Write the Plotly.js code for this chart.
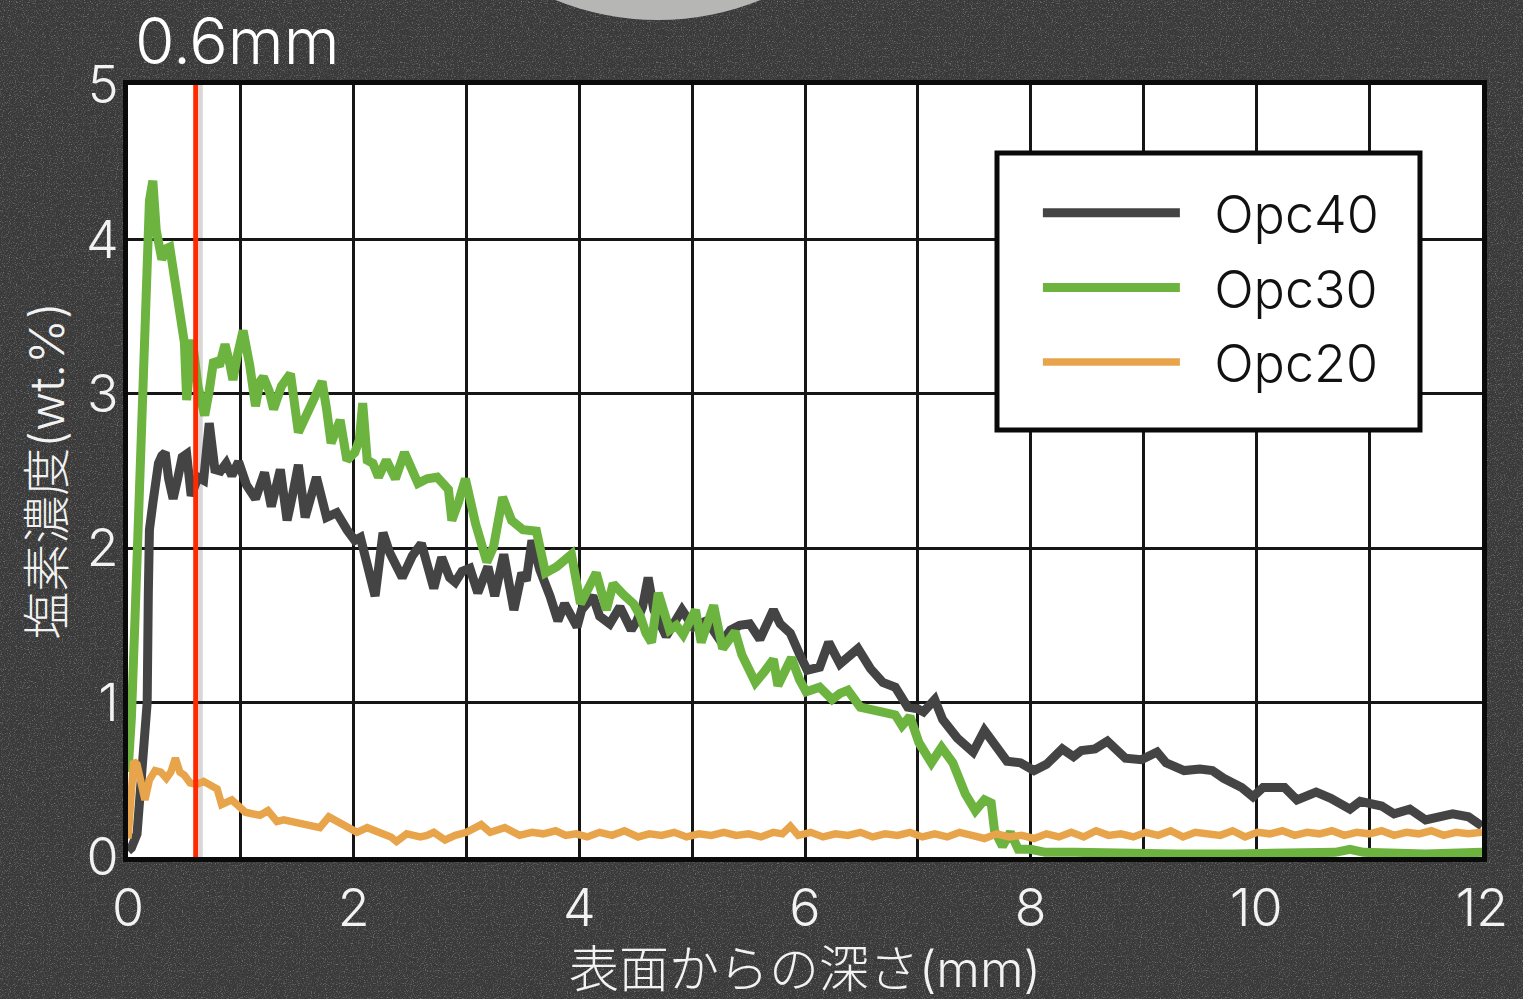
<!DOCTYPE html>
<html lang="ja">
<head>
<meta charset="utf-8">
<title>塩素濃度分布</title>
<script src="https://cdn.plot.ly/plotly-3.0.1.min.js"></script>
<style>
  html, body { margin:0; padding:0; overflow:hidden; background:#3b3b3b; }
  #chart {
    width:1523px; height:999px;
    background-color:#3a3a3a;
    background-image:url("data:image/svg+xml;utf8,<svg xmlns='http://www.w3.org/2000/svg' width='256' height='256'><filter id='g'><feTurbulence type='fractalNoise' baseFrequency='0.85' numOctaves='2' stitchTiles='stitch'/><feColorMatrix type='matrix' values='0 0 0 0 1 0 0 0 0 1 0 0 0 0 1 0.9 0 0 0 -0.47'/></filter><rect width='256' height='256' filter='url(%23g)'/></svg>");
  }
</style>
</head>
<body>
<div id="chart"></div>
<script>
// depth from surface (mm) and chloride content (wt.%) for each mix
const opc40X = [0,0.03,0.08,0.11,0.14,0.17,0.18,0.19,0.22,0.27,0.30,0.33,0.36,0.40,0.44,0.48,0.52,0.56,0.62,0.67,0.72,0.77,0.82,0.87,0.92,0.98,1.05,1.13,1.21,1.27,1.35,1.41,1.46,1.51,1.57,1.67,1.76,1.85,1.94,2.01,2.06,2.10,2.19,2.26,2.32,2.43,2.52,2.60,2.71,2.78,2.85,2.90,2.96,3.03,3.10,3.19,3.25,3.33,3.42,3.49,3.53,3.58,3.65,3.74,3.81,3.87,3.98,4.02,4.12,4.18,4.27,4.36,4.46,4.51,4.56,4.61,4.66,4.77,4.91,5.01,5.13,5.26,5.34,5.42,5.51,5.60,5.72,5.78,5.87,5.96,6.02,6.13,6.21,6.31,6.39,6.47,6.58,6.69,6.80,6.91,7.00,7.05,7.15,7.22,7.35,7.49,7.59,7.72,7.79,7.91,8.03,8.14,8.28,8.38,8.45,8.57,8.68,8.84,8.98,9.12,9.20,9.36,9.50,9.61,9.71,9.87,9.97,10.06,10.25,10.36,10.53,10.66,10.83,10.92,11.11,11.22,11.36,11.50,11.60,11.74,11.88,12.00];
const opc40Y = [0.04,0.06,0.15,0.40,0.69,1.00,1.70,2.12,2.29,2.55,2.60,2.62,2.45,2.32,2.45,2.59,2.61,2.34,2.46,2.44,2.81,2.51,2.50,2.55,2.47,2.56,2.41,2.32,2.49,2.27,2.51,2.18,2.35,2.54,2.20,2.46,2.20,2.23,2.12,2.05,2.07,1.94,1.69,2.10,1.97,1.81,1.95,2.03,1.74,1.94,1.81,1.78,1.85,1.87,1.71,1.88,1.69,1.96,1.60,1.84,1.79,2.05,1.86,1.69,1.53,1.64,1.49,1.60,1.69,1.56,1.51,1.62,1.47,1.53,1.62,1.81,1.60,1.43,1.60,1.49,1.53,1.39,1.47,1.50,1.51,1.41,1.60,1.51,1.45,1.30,1.21,1.23,1.39,1.25,1.30,1.35,1.22,1.13,1.10,0.97,0.96,0.94,1.02,0.89,0.77,0.68,0.82,0.69,0.62,0.61,0.56,0.60,0.70,0.65,0.69,0.70,0.75,0.64,0.63,0.68,0.61,0.56,0.57,0.56,0.51,0.45,0.39,0.45,0.45,0.37,0.42,0.38,0.31,0.36,0.33,0.28,0.31,0.24,0.26,0.28,0.26,0.20];

const opc30X = [0,0.03,0.06,0.09,0.13,0.16,0.19,0.22,0.25,0.30,0.34,0.37,0.40,0.46,0.50,0.52,0.57,0.62,0.68,0.72,0.76,0.81,0.86,0.90,0.93,0.97,1.02,1.08,1.13,1.17,1.20,1.25,1.29,1.36,1.44,1.51,1.57,1.65,1.72,1.76,1.80,1.88,1.94,2.01,2.05,2.08,2.12,2.17,2.22,2.29,2.37,2.45,2.51,2.57,2.65,2.74,2.84,2.87,2.93,2.99,3.08,3.18,3.24,3.32,3.40,3.50,3.62,3.70,3.80,3.93,4.01,4.08,4.15,4.24,4.30,4.39,4.48,4.54,4.59,4.64,4.70,4.80,4.86,4.92,5.03,5.08,5.19,5.27,5.38,5.44,5.50,5.56,5.64,5.72,5.76,5.82,5.88,5.95,6.01,6.13,6.24,6.31,6.38,6.49,6.59,6.69,6.80,6.86,6.93,7.01,7.12,7.21,7.25,7.31,7.42,7.51,7.59,7.65,7.68,7.75,7.82,7.89,8.00,8.13,8.40,8.80,9.30,9.80,10.30,10.70,10.83,10.95,11.50,12.00];
const opc30Y = [0.55,0.90,1.50,2.10,3.10,3.80,4.25,4.38,4.06,3.87,3.94,3.95,3.80,3.59,3.33,2.96,3.35,3.05,2.86,3.02,3.22,3.18,3.32,3.20,3.09,3.25,3.41,3.18,2.92,3.08,3.11,3.02,2.90,3.05,3.13,2.75,2.85,2.98,3.08,2.90,2.68,2.83,2.57,2.62,2.70,2.94,2.57,2.55,2.46,2.57,2.45,2.62,2.50,2.42,2.45,2.46,2.38,2.18,2.30,2.45,2.16,1.91,2.01,2.33,2.18,2.12,2.11,1.84,1.88,1.96,1.64,1.73,1.84,1.60,1.77,1.70,1.64,1.56,1.45,1.39,1.71,1.47,1.50,1.44,1.60,1.39,1.63,1.35,1.46,1.31,1.22,1.13,1.20,1.28,1.11,1.20,1.29,1.15,1.07,1.10,1.02,1.06,1.08,0.97,0.95,0.93,0.92,0.85,0.91,0.74,0.61,0.71,0.66,0.61,0.41,0.30,0.37,0.35,0.17,0.07,0.16,0.05,0.05,0.03,0.03,0.02,0.02,0.02,0.02,0.03,0.05,0.03,0.02,0.03];

const opc20X = [0,0.02,0.05,0.08,0.11,0.15,0.19,0.24,0.29,0.34,0.38,0.42,0.46,0.50,0.55,0.61,0.67,0.73,0.79,0.83,0.92,0.98,1.04,1.10,1.17,1.24,1.32,1.38,1.44,1.51,1.58,1.64,1.70,1.78,1.88,1.95,2.03,2.12,2.19,2.26,2.33,2.38,2.47,2.53,2.59,2.65,2.71,2.81,2.90,3.00,3.07,3.13,3.21,3.27,3.34,3.47,3.58,3.68,3.79,3.88,3.97,4.07,4.18,4.29,4.40,4.52,4.62,4.73,4.84,4.95,5.06,5.17,5.28,5.39,5.50,5.61,5.72,5.80,5.87,5.94,6.05,6.16,6.27,6.38,6.49,6.60,6.71,6.82,6.93,7.04,7.15,7.26,7.37,7.48,7.59,7.70,7.81,7.92,8.03,8.14,8.25,8.36,8.47,8.58,8.69,8.80,8.91,9.02,9.13,9.24,9.35,9.46,9.57,9.68,9.79,9.90,10.01,10.12,10.23,10.34,10.45,10.56,10.67,10.78,10.89,11.00,11.11,11.22,11.33,11.44,11.55,11.66,11.77,11.88,12.00];
const opc20Y = [0.12,0.30,0.62,0.60,0.52,0.37,0.50,0.56,0.55,0.51,0.55,0.64,0.55,0.53,0.48,0.47,0.49,0.46,0.44,0.34,0.37,0.33,0.29,0.28,0.27,0.30,0.23,0.24,0.23,0.22,0.21,0.20,0.19,0.26,0.22,0.19,0.16,0.19,0.17,0.16,0.13,0.10,0.15,0.14,0.13,0.14,0.16,0.11,0.14,0.16,0.18,0.21,0.16,0.17,0.19,0.14,0.16,0.15,0.17,0.14,0.15,0.13,0.16,0.14,0.17,0.13,0.15,0.14,0.16,0.13,0.15,0.14,0.16,0.14,0.15,0.13,0.16,0.15,0.20,0.14,0.16,0.13,0.15,0.14,0.16,0.13,0.15,0.14,0.16,0.13,0.15,0.13,0.16,0.14,0.12,0.15,0.13,0.14,0.12,0.15,0.13,0.16,0.13,0.17,0.14,0.15,0.13,0.16,0.14,0.17,0.13,0.16,0.15,0.14,0.17,0.13,0.16,0.15,0.17,0.14,0.16,0.15,0.17,0.14,0.16,0.15,0.17,0.14,0.16,0.15,0.17,0.14,0.16,0.15,0.16];

const seriesNames = ['Opc40', 'Opc30', 'Opc20'];
const seriesColors = ['#454444', '#6cb43f', '#e8a44b'];

const xTickVals = [0,1,2,3,4,5,6,7,8,9,10,11,12];
const xTickText = ['0','','2','','4','','6','','8','','10','','12'];
const yTickVals = [0,1,2,3,4,5];
const markerDepth = 0.6;
const markerLabel = '0.6mm';

const FONT = 'Inter, "Noto Sans CJK JP", "Noto Sans", sans-serif';
const GAP = '\u00A0\u00A0';

const seriesX = [opc40X, opc30X, opc20X];
const seriesY = [opc40Y, opc30Y, opc20Y];
const widths = [9, 9, 7.5];

const traces = seriesNames.map((name, i) => ({
  type: 'scatter',
  mode: 'lines',
  name: GAP + name,
  legendgroup: name,
  x: seriesX[i],
  y: seriesY[i],
  line: { color: seriesColors[i], width: widths[i], shape: 'linear' },
  hoverinfo: 'skip'
}));

const layout = {
  width: 1523,
  height: 999,
  margin: { l: 128, r: 41, t: 85, b: 142 },
  paper_bgcolor: 'rgba(0,0,0,0)',
  plot_bgcolor: '#ffffff',
  font: { family: FONT, color: '#f2f2f2', weight: 300 },
  showlegend: true,
  legend: {
    x: 0.672, y: 0.8866, xanchor: 'left', yanchor: 'top',
    bgcolor: 'rgba(0,0,0,0)', borderwidth: 0,
    font: { family: FONT, size: 52, color: '#111111', weight: 300 },
    itemwidth: 137,
    tracegroupgap: 4,
    traceorder: 'grouped'
  },
  xaxis: {
    range: [0, 12],
    tickmode: 'array', tickvals: xTickVals, ticktext: xTickText,
    showgrid: true, gridcolor: '#161616', gridwidth: 3,
    showline: true, linecolor: '#0a0a0a', linewidth: 5, mirror: true,
    zeroline: false, ticks: '',
    ticklabelstandoff: 2,
    tickfont: { family: FONT, size: 52, color: '#f2f2f2', weight: 300 },
    title: { text: '表面からの深さ(mm)', standoff: 34,
             font: { family: FONT, size: 50, color: '#f2f2f2', weight: 300 } },
    fixedrange: true
  },
  yaxis: {
    range: [0, 5],
    tickmode: 'array', tickvals: yTickVals,
    showgrid: true, gridcolor: '#161616', gridwidth: 3,
    showline: true, linecolor: '#0a0a0a', linewidth: 5, mirror: true,
    zeroline: false, ticks: '',
    ticklabelstandoff: -6,
    tickfont: { family: FONT, size: 52, color: '#f2f2f2', weight: 300 },
    title: { text: '塩素濃度(wt.%)', standoff: 8,
             font: { family: FONT, size: 48, color: '#f2f2f2', weight: 300 } },
    fixedrange: true
  },
  shapes: [
    // grey disc peeking in at the top edge
    { type: 'circle', xref: 'paper', yref: 'paper',
      xsizemode: 'pixel', ysizemode: 'pixel', xanchor: 0.3914, yanchor: 1,
      x0: -273, x1: 273, y0: 65, y1: 611,
      fillcolor: '#b6b7b5', line: { width: 0 }, layer: 'below' },
    // faint shadow beside the depth marker
    { type: 'line', xref: 'x', yref: 'paper', x0: markerDepth + 0.045, x1: markerDepth + 0.045, y0: 0, y1: 1,
      line: { color: 'rgba(140,140,140,0.35)', width: 4 }, layer: 'between' },
    // depth marker
    { type: 'line', xref: 'x', yref: 'paper', x0: markerDepth, x1: markerDepth, y0: 0, y1: 1,
      line: { color: '#ff2a00', width: 5 }, layer: 'above' },
    // legend frame
    { type: 'rect', xref: 'paper', yref: 'paper', x0: 0.6418, x1: 0.9542, y0: 0.5531, y1: 0.9119,
      fillcolor: '#ffffff', line: { color: '#0a0a0a', width: 5 }, layer: 'above' }
  ],
  annotations: [
    { xref: 'paper', yref: 'paper', x: 0.004, y: 1.057, xanchor: 'left', yanchor: 'middle',
      text: markerLabel, showarrow: false,
      font: { family: FONT, size: 64, color: '#ffffff', weight: 300 } }
  ]
};

Plotly.newPlot('chart', traces, layout, { displayModeBar: false, staticPlot: true });
</script>
</body>
</html>
